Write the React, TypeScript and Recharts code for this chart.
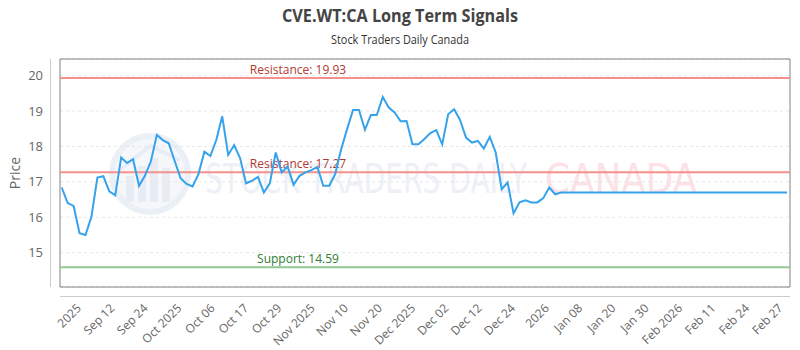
import { CartesianGrid, Line, LineChart, ReferenceArea, ReferenceLine, XAxis, YAxis } from "recharts";

// daily closes, then the flat projection out to the end of February
const closes = [
  16.84, 16.4, 16.32, 15.55, 15.5, 16.02, 17.12, 17.16, 16.73, 16.62,
  17.69, 17.53, 17.64, 16.89, 17.17, 17.58, 18.33, 18.18, 18.09, 17.59,
  17.1, 16.94, 16.87, 17.22, 17.85, 17.73, 18.18, 18.85, 17.76, 18.04,
  17.67, 16.96, 17.03, 17.14, 16.7, 16.96, 17.83, 17.27, 17.43, 16.92,
  17.17, 17.27, 17.33, 17.42, 16.89, 16.89, 17.22, 17.92, 18.49, 19.03,
  19.03, 18.47, 18.89, 18.89, 19.4, 19.1, 18.96, 18.71, 18.72, 18.06,
  18.06, 18.21, 18.38, 18.46, 18.06, 18.91, 19.05, 18.75, 18.25, 18.11,
  18.16, 17.94, 18.27, 17.83, 16.79, 16.98, 16.11, 16.42, 16.48, 16.42,
  16.42, 16.54, 16.84, 16.65, 16.7,
];
const projection = [
  16.7, 16.7, 16.7, 16.7, 16.7, 16.7, 16.7, 16.7, 16.7, 16.7,
  16.7, 16.7, 16.7, 16.7, 16.7, 16.7, 16.7, 16.7, 16.7, 16.7,
  16.7, 16.7, 16.7, 16.7, 16.7, 16.7, 16.7, 16.7, 16.7, 16.7,
  16.7, 16.7, 16.7, 16.7, 16.7, 16.7, 16.7, 16.7,
];

const tickLabels = [
  "2025", "Sep 12", "Sep 24", "Oct 2025", "Oct 06", "Oct 17", "Oct 29", "Nov 2025",
  "Nov 10", "Nov 20", "Dec 2025", "Dec 02", "Dec 12", "Dec 24", "2026", "Jan 08",
  "Jan 20", "Jan 30", "Feb 2026", "Feb 11", "Feb 24", "Feb 27",
];
// where each label sits, in trading-day index units
const tickIdx = [
  3.4, 9.0, 14.6, 20.3, 25.9, 31.5, 37.1, 42.7, 48.3, 54.0, 59.6,
  65.2, 70.8, 76.4, 82.1, 87.7, 93.3, 98.9, 104.5, 110.1, 115.8, 121.4,
];
const priceTicks = [15, 16, 17, 18, 19, 20];
const resistance = [19.93, 17.27];
const support = [14.59];

const data = [...closes, ...projection].map((p, i) => ({ i, p }));

const X_DOMAIN: [number, number] = [-0.29, 122.5];
const Y_DOMAIN: [number, number] = [14.03, 20.47];
const FONT = "'Open Sans', 'DejaVu Sans', sans-serif";

function DateTick({ x, y, payload }: any) {
  const k = tickIdx.indexOf(payload.value);
  return (
    <g transform={`translate(${x},${y + 20})`}>
      <text textAnchor="end" transform="rotate(-45)" fill="#666" fontSize={12} fontFamily={FONT}>
        {tickLabels[k]}
      </text>
    </g>
  );
}

function levelLabel(text: string, color: string) {
  return ({ viewBox }: any) => (
    <text x={viewBox.x + 238} y={viewBox.y - 4} textAnchor="middle" fill={color} fontSize={12} fontFamily={FONT}>
      {text}
    </text>
  );
}

function Backdrop() {
  return (
    <svg width={800} height={350} style={{ position: "absolute", left: 0, top: 0 }}>
      <rect width={800} height={350} fill="#fff" />
      <text x={400} y={22} textAnchor="middle" fontSize={17} fontWeight="bold" fill="#444" fontFamily={FONT}
        textLength={236} lengthAdjust="spacingAndGlyphs">
        CVE.WT:CA Long Term Signals
      </text>
      <text x={400} y={44} textAnchor="middle" fontSize={12} fill="#333" fontFamily={FONT}
        textLength={138} lengthAdjust="spacingAndGlyphs">
        Stock Traders Daily Canada
      </text>
      <text transform="translate(20,173) rotate(-90)" textAnchor="middle" fontSize={14} fill="#666" fontFamily={FONT}>
        Price
      </text>
      {/* detached axis lines */}
      <line x1={50.5} y1={59} x2={50.5} y2={287} stroke="#ccc" />
      <line x1={60} y1={296.5} x2={790} y2={296.5} stroke="#ccc" />
      {/* watermark */}
      <g opacity={0.7}>
        <circle cx={150} cy={174} r={38} fill="#f1f4fa" stroke="#e3e9f3" strokeWidth={6} />
        <rect x={126} y={176} width={8} height={26} fill="#dfe6f1" />
        <rect x={138} y={166} width={8} height={36} fill="#dfe6f1" />
        <rect x={150} y={158} width={8} height={44} fill="#dfe6f1" />
        <rect x={162} y={168} width={8} height={34} fill="#dfe6f1" />
        <path d="M120 170 L150 146 L180 160" fill="none" stroke="#dfe6f1" strokeWidth={4} />
        <text x={205} y={193} fontSize={40} fill="#e6ecf4" fontFamily="'DejaVu Sans', sans-serif"
          textLength={322} lengthAdjust="spacingAndGlyphs">
          STOCK TRADERS DAILY
        </text>
        <text x={545} y={193} fontSize={40} fill="#fcd6d9" fontFamily="'DejaVu Sans', sans-serif"
          textLength={152} lengthAdjust="spacingAndGlyphs">
          CANADA
        </text>
      </g>
    </svg>
  );
}

export default function App() {
  return (
    <div style={{ position: "absolute", left: 0, top: 0, width: 800, height: 350, background: "#fff" }}>
      <Backdrop />
      <div style={{ position: "absolute", left: 0, top: 0 }}>
        <LineChart width={800} height={350} data={data} margin={{ top: 59, right: 10, bottom: 0, left: 0 }}>
          <CartesianGrid vertical={false} stroke="#e6e6e6" strokeDasharray="3 3" />
          <XAxis
            dataKey="i"
            type="number"
            domain={X_DOMAIN}
            ticks={tickIdx}
            interval={0}
            height={63}
            axisLine={false}
            tickLine={false}
            tickSize={0}
            tick={<DateTick />}
            allowDataOverflow
          />
          <YAxis
            type="number"
            domain={Y_DOMAIN}
            ticks={priceTicks}
            width={60}
            axisLine={false}
            tickLine={false}
            tickSize={0}
            tickMargin={17}
            tick={{ fill: "#666", fontSize: 13, fontFamily: FONT }}
            allowDataOverflow
          />
          <ReferenceArea x1={X_DOMAIN[0]} x2={X_DOMAIN[1]} y1={Y_DOMAIN[0]} y2={Y_DOMAIN[1]}
            fill="none" stroke="#808080" strokeWidth={1} />
          {resistance.map((v) => (
            <ReferenceLine key={v} y={v} stroke="#f4918c" strokeWidth={2}
              label={levelLabel(`Resistance: ${v.toFixed(2)}`, "#b03a32")} />
          ))}
          {support.map((v) => (
            <ReferenceLine key={v} y={v} stroke="#92c992" strokeWidth={2}
              label={levelLabel(`Support: ${v.toFixed(2)}`, "#2e7d32")} />
          ))}
          <Line dataKey="p" stroke="#36a2eb" strokeWidth={2} dot={false} isAnimationActive={false} />
        </LineChart>
      </div>
    </div>
  );
}
